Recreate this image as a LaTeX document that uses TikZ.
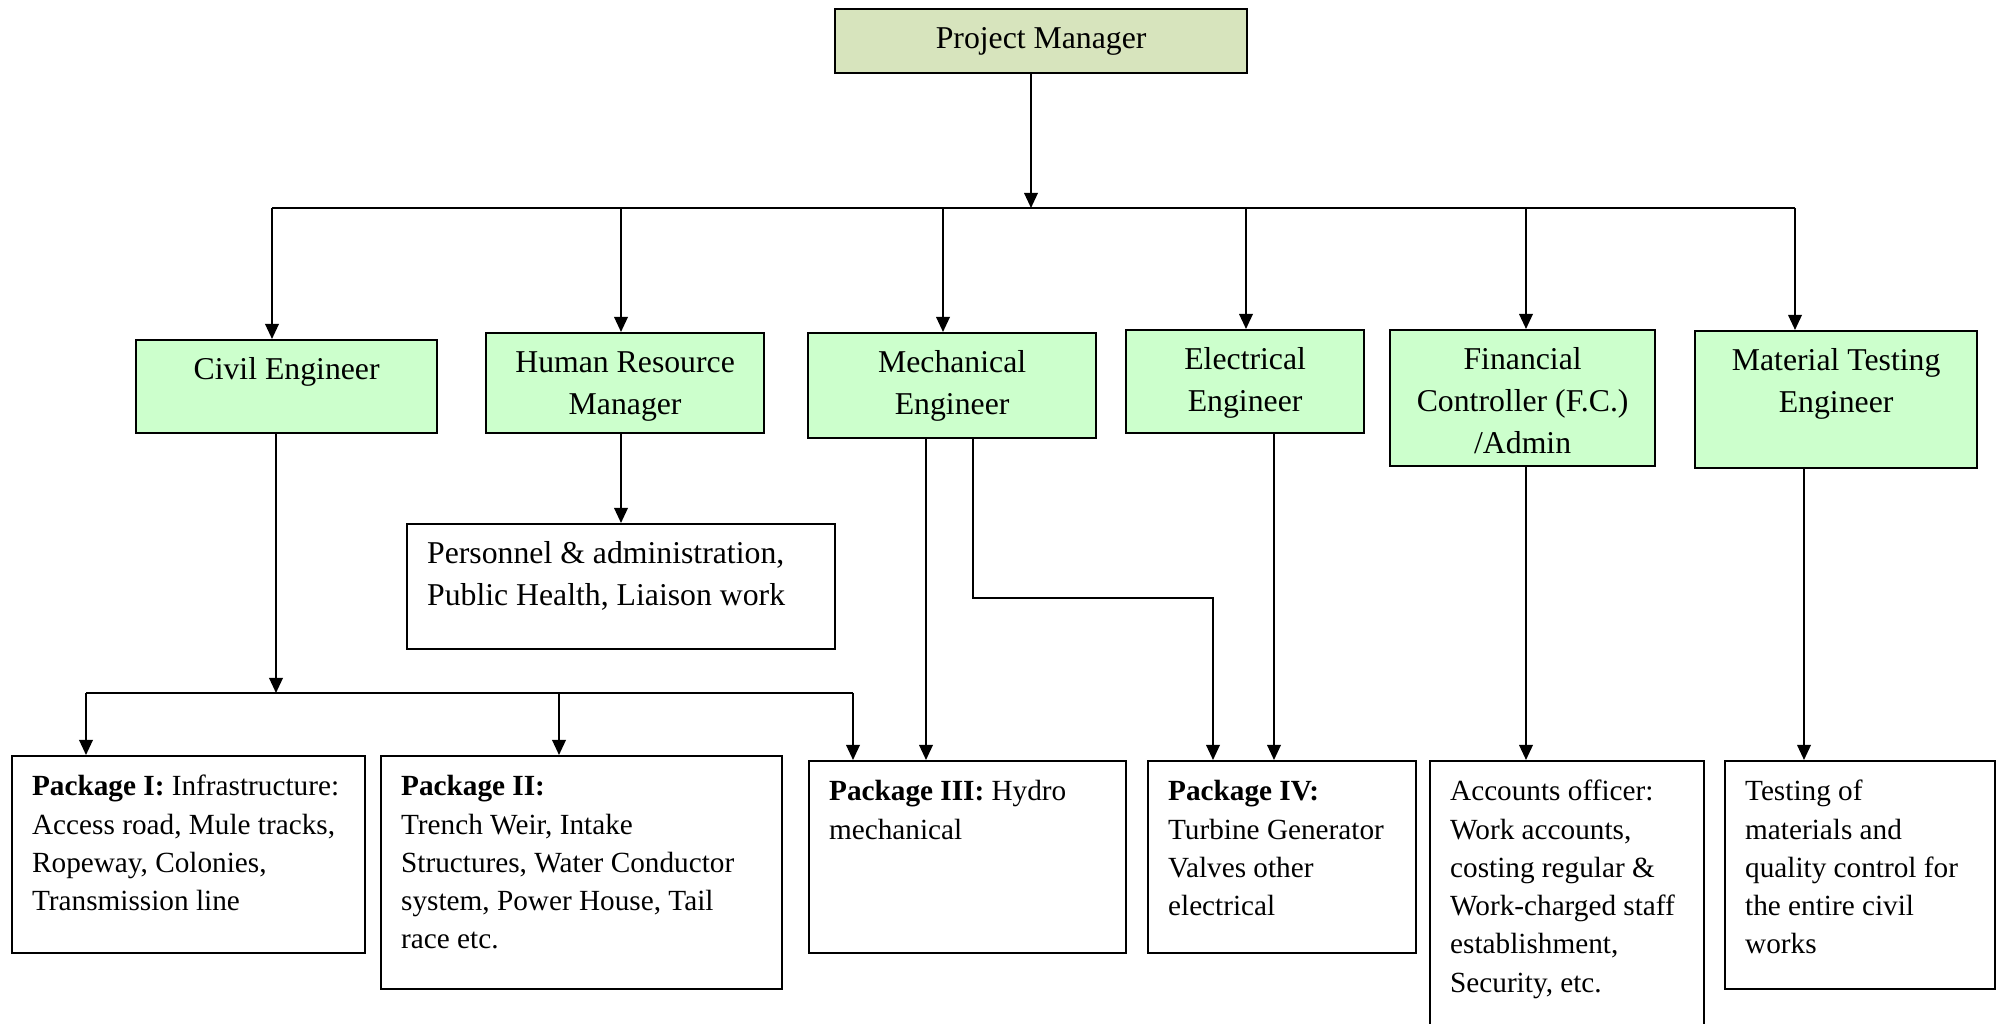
\documentclass[tikz,border=0pt]{standalone}
\usepackage{fontspec}
\setmainfont{Liberation Serif}
\usepackage{xcolor}
\usepackage{tikz}
\usetikzlibrary{arrows.meta, calc}
\definecolor{olivefill}{RGB}{215, 228, 189}
\definecolor{mintfill}{RGB}{204, 255, 204}
% text hung from the top of a box of fixed size
\newcommand{\toptext}[4][0pt]{\parbox[t][#3][t]{#2}{\vspace*{#1}#4}}

\begin{document}
\begin{tikzpicture}[x=0.4pt, y=-0.4pt,
    card/.style={draw, line width=0.9pt, anchor=north west, inner xsep=8pt, inner ysep=4pt},
    role/.style={card, fill=mintfill, font=\fontsize{12.7}{16.8}\selectfont},
    duty/.style={card, fill=white, font=\fontsize{11.7}{15.3}\selectfont},
    link/.style={line width=0.75pt},
    arr/.style={link, -{Triangle[length=6pt, width=5.4pt]}}]
  \useasboundingbox (0,0) rectangle (1999,1024);

  % ---- Head ----
  \node[card, fill=olivefill, inner sep=0pt, minimum width=164.8pt, minimum height=25.6pt,
        font=\fontsize{12.7}{16.8}\selectfont] (pm) at (834,8) {Project Manager};

  % ---- Second level ----
  \node[role] (civil) at (135,339) {\toptext{104.4pt}{29.2pt}{\centering\strut Civil Engineer}};
  \node[role] (hr) at (485,332) {\toptext{95.2pt}{32pt}{\centering\strut Human Resource\\Manager}};
  \node[role] (mech) at (807,332) {\toptext{99.2pt}{34pt}{\centering\strut Mechanical\\Engineer}};
  \node[role] (elec) at (1125,329) {\toptext{79.2pt}{33.2pt}{\centering\strut Electrical\\Engineer}};
  \node[role] (fin) at (1389,329) {\toptext{90pt}{46.4pt}{\centering\strut Financial\\Controller (F.C.)\\/Admin}};
  \node[role] (mat) at (1694,330) {\toptext{96.8pt}{46.8pt}{\centering\strut Material Testing\\Engineer}};

  \node[card, fill=white, font=\fontsize{12.7}{16.8}\selectfont] (pers) at (406,523)
    {\toptext{155.2pt}{42pt}{\raggedright\strut Personnel \& administration,\\Public Health, Liaison work}};

  % ---- Work packages ----
  \node[duty] (pk1) at (11,755) {\toptext[1.2pt]{125.2pt}{70.8pt}{\raggedright\strut
    \textbf{Package I:} Infrastructure:\\Access road, Mule tracks,\\Ropeway, Colonies,\\Transmission line}};
  \node[duty] (pk2) at (380,755) {\toptext[1.2pt]{144.4pt}{85.2pt}{\raggedright\strut
    \textbf{Package II:}\\Trench Weir, Intake\\Structures, Water Conductor\\system, Power House, Tail\\race etc.}};
  \node[duty] (pk3) at (808,760) {\toptext[1.2pt]{110.8pt}{68.8pt}{\raggedright\strut
    \textbf{Package III:} Hydro\\mechanical}};
  \node[duty] (pk4) at (1147,760) {\toptext[1.2pt]{91.2pt}{68.8pt}{\raggedright\strut
    \textbf{Package IV:}\\Turbine Generator\\Valves other\\electrical}};
  \node[duty] (acc) at (1429,760) {\toptext[1.2pt]{93.6pt}{102pt}{\raggedright\strut
    Accounts officer:\\Work accounts,\\costing regular \&\\Work-charged staff\\establishment,\\Security, etc.}};
  \node[duty] (test) at (1724,760) {\toptext[1.2pt]{92pt}{83.2pt}{\raggedright\strut
    Testing of\\materials and\\quality control for\\the entire civil\\works}};

  % ---- Main bus ----
  \coordinate (hub) at (1031,208);
  \coordinate (b1) at (272,208);
  \coordinate (b2) at (621,208);
  \coordinate (b3) at (943,208);
  \coordinate (b4) at (1246,208);
  \coordinate (b5) at (1526,208);
  \coordinate (b6) at (1795,208);
  \draw[arr] (hub |- pm.south) -- (hub);
  \draw[link] (b1) -- (b6);
  \draw[arr] (b1) -- (b1 |- civil.north);
  \draw[arr] (b2) -- (b2 |- hr.north);
  \draw[arr] (b3) -- (b3 |- mech.north);
  \draw[arr] (b4) -- (b4 |- elec.north);
  \draw[arr] (b5) -- (b5 |- fin.north);
  \draw[arr] (b6) -- (b6 |- mat.north);

  % ---- Civil bus ----
  \coordinate (c0) at (276,693);
  \coordinate (c1) at (86,693);
  \coordinate (c2) at (559,693);
  \coordinate (c3) at (853,693);
  \draw[arr] (c0 |- civil.south) -- (c0);
  \draw[link] (c1) -- (c3);
  \draw[arr] (c1) -- (c1 |- pk1.north);
  \draw[arr] (c2) -- (c2 |- pk2.north);
  \draw[arr] (c3) -- (c3 |- pk3.north);

  % ---- Other drops ----
  \draw[arr] (b2 |- hr.south) -- (b2 |- pers.north);
  \coordinate (m1) at (926,600);
  \coordinate (m2) at (973,598);
  \coordinate (m3) at (1213,598);
  \draw[arr] (m1 |- mech.south) -- (m1 |- pk3.north);
  \draw[arr] (m2 |- mech.south) -- (m2) -- (m3) -- (m3 |- pk4.north);
  \coordinate (e1) at (1274,600);
  \draw[arr] (e1 |- elec.south) -- (e1 |- pk4.north);
  \draw[arr] (b5 |- fin.south) -- (b5 |- acc.north);
  \coordinate (t1) at (1804,600);
  \draw[arr] (t1 |- mat.south) -- (t1 |- test.north);
\end{tikzpicture}
\end{document}
